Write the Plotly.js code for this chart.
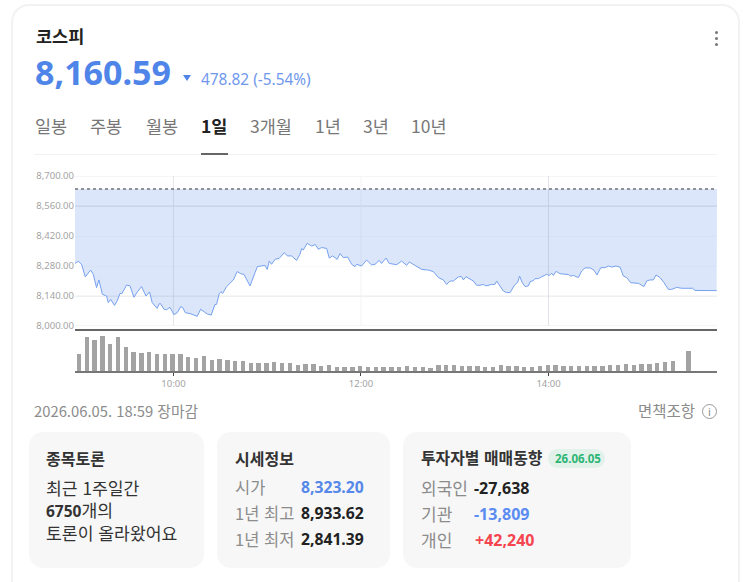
<!DOCTYPE html>
<html lang="ko"><head><meta charset="utf-8">
<script src="https://cdn.plot.ly/plotly-3.0.1.min.js"></script>
<style>
html,body{margin:0;padding:0;background:#fff;overflow:hidden;width:743px;height:582px;font-family:"Noto Sans CJK KR","Noto Sans",sans-serif}
#card{position:absolute;left:11px;top:4px;width:729px;height:600px;border:2px solid #f2f2f2;border-radius:18px;box-sizing:border-box}
.t{position:absolute;white-space:nowrap;line-height:1;transform:translateY(-50%)}
.box{position:absolute;top:432px;height:136px;background:#f7f7f7;border-radius:14px}
.num{font-family:"Noto Sans",sans-serif}
#chart{position:absolute;left:0;top:165px;width:743px;height:225px}
</style></head><body>
<div id="card"></div>
<div id="chart"></div>
<div class="box" style="left:29px;width:175px"></div>
<div class="box" style="left:217px;width:173px"></div>
<div class="box" style="left:403px;width:228px"></div>
<div id="ui"></div>
<script>
const minutes = [-3,-0.9,1.2,3.6,7,8.7,10.8,12.3,14.5,17.2,18.3,19.8,22.3,24,25.8,27,28.3,30,32.2,34.7,36.9,39.6,42.4,44.7,46.4,49.6,50.9,51.8,53.9,55.6,57.8,60.3,62.4,64.6,65.9,67.6,70.6,75.2,77.4,79.5,81.6,84.2,86.5,87.6,89.3,90.4,91.5,94,96.2,98.3,100.8,103,105.1,109,112.2,113.7,118.6,120,121.3,122.8,125,127.7,130.9,132.9,135.6,138.8,140.9,142,143.1,145.6,148.4,150.8,152.7,154.8,158,159.7,161.9,164.8,166.6,168.7,171.5,174,176.2,177.2,180.4,183.6,186.8,189,191.7,193.2,196,198.1,202.8,206,209.2,210.9,214.5,218.8,223.1,226.3,229.5,232.7,234.8,237,239.1,242.3,244.4,245.5,247.2,251.9,254,256.1,258.3,260,263.6,265.7,266.8,269,271.1,273.2,275.4,277.9,280.3,281.5,283.2,285,287.1,288.2,290.3,291.4,293.5,295.6,298.8,300.5,302,303.1,304.8,307.4,312.7,314.2,315.9,319.1,321.2,323.4,326.6,329.1,331,333.4,336.2,338.3,340.4,343.2,345.8,347.9,350,352.6,357.5,361.1,362.8,364.9,367.1,368.8,371.4,373.9,376.7,378.8,382,385.2,392.2,393.7,407.6];
const prices = [8292,8302,8288,8229,8261,8241,8179,8215,8148,8140,8109,8124,8096,8117,8152,8151,8168,8191,8187,8134,8159,8184,8140,8159,8109,8082,8104,8104,8078,8076,8087,8053,8062,8090,8086,8062,8058,8045,8078,8068,8056,8051,8100,8101,8151,8160,8152,8184,8202,8215,8254,8244,8241,8187,8249,8277,8283,8264,8303,8288,8311,8316,8342,8327,8327,8306,8334,8361,8355,8386,8373,8380,8358,8366,8362,8317,8327,8311,8338,8319,8322,8288,8277,8288,8280,8308,8285,8288,8306,8292,8317,8292,8286,8303,8283,8299,8283,8264,8261,8254,8226,8215,8194,8210,8210,8229,8230,8215,8230,8210,8190,8190,8194,8187,8194,8194,8210,8184,8163,8156,8156,8187,8205,8233,8202,8184,8187,8207,8212,8221,8221,8230,8241,8236,8246,8236,8255,8244,8240,8233,8236,8226,8257,8271,8271,8260,8238,8272,8272,8280,8275,8280,8274,8233,8226,8202,8199,8184,8210,8215,8215,8238,8226,8202,8171,8171,8180,8176,8176,8166,8165];
const volumes = [51,103,92,106,80,103,73,58,54,58,51,51,51,51,43,39,45,33,36,33,30,30,25,25,25,28,25,25,17,21,21,16,18,13,13,13,16,12,12,13,12,13,16,13,13,10,17,18,18,15,15,16,13,13,18,15,15,12,13,16,18,18,16,16,15,16,16,16,18,18,21,18,20,21,24,28,30,0,61];
const prevClose = 8639.41;
const xRange = [-3,407.8];
const priceTicks = [8000,8140,8280,8420,8560,8700];
const priceTickLabels = ["8,000.00","8,140.00","8,280.00","8,420.00","8,560.00","8,700.00"];
const strongGrid = [8000,8140,8560,8700];
const timeTicks = [60,180,300];
const timeTickLabels = ["10:00","12:00","14:00"];
const timeGridColors = ['#e4e6ea','#f3f3f3','#e0e3e8'];

const traces = [
 {x:xRange,y:[prevClose,prevClose],mode:'lines',line:{color:'#333',width:1,dash:'dot'},hoverinfo:'skip',xaxis:'x',yaxis:'y'},
 {x:minutes,y:prices,mode:'lines',line:{color:'#76a1f0',width:1},fill:'tonexty',fillcolor:'rgba(88,136,232,0.21)',hoverinfo:'skip',xaxis:'x',yaxis:'y'},
 {x:volumes.map((_,i)=>i*5-0.5),y:volumes,type:'bar',width:2.8,marker:{color:'#a3a3a3',line:{width:0}},hoverinfo:'skip',xaxis:'x2',yaxis:'y2'}
];
const tickFont={family:'"Noto Sans","Open Sans",sans-serif',size:9.5,color:'#a3a3a3'};
const gridShapes = strongGrid.map(v=>({type:'line',layer:'below',xref:'paper',yref:'y',x0:0,x1:1,y0:v,y1:v,line:{color:v===8560?'#e0e2e6':'#ececec',width:1}}))
 .concat(timeTicks.map((v,i)=>({type:'line',layer:'below',xref:'x',yref:'y domain',x0:v,x1:v,y0:0,y1:1,line:{color:timeGridColors[i],width:1}})));
const layout={
 width:743,height:225,margin:{l:75,r:26,t:11,b:19},paper_bgcolor:'rgba(0,0,0,0)',plot_bgcolor:'rgba(0,0,0,0)',showlegend:false,
 xaxis:{domain:[0,1],range:xRange,anchor:'y',tickvals:timeTicks,showticklabels:false,showgrid:false,zeroline:false,showline:false,ticks:''},
 yaxis:{domain:[0.2308,1],range:[8000,8700],tickvals:priceTicks,ticktext:priceTickLabels,tickfont:tickFont,showgrid:true,gridcolor:'rgba(120,130,150,0.05)',gridwidth:1,zeroline:false,showline:false,ticks:'',ticklabelstandoff:0},
 xaxis2:{domain:[0,1],range:xRange,anchor:'y2',tickvals:timeTicks,ticktext:timeTickLabels,tickfont:tickFont,showgrid:false,zeroline:false,showline:true,linecolor:'#777',linewidth:1.5,ticks:'outside',ticklen:3,tickwidth:1,tickcolor:'#444'},
 yaxis2:{domain:[0,0.2103],range:[0,123],showticklabels:false,showgrid:false,zeroline:false,showline:false,ticks:''},
 bargap:0,
 shapes:gridShapes.concat([{type:'line',xref:'paper',yref:'y2 domain',x0:0,x1:1,y0:1,y1:1,line:{color:'#333',width:1.3}}])
};
Plotly.newPlot('chart',traces,layout,{displayModeBar:false,staticPlot:true});

const ui=document.getElementById('ui');
function T(text,x,y,size,color,bold,cls){const s=document.createElement('span');s.className='t '+(cls||'');s.textContent=text;s.style.cssText=`left:${x}px;top:${y}px;font-size:${size}px;color:${color};font-weight:${bold?700:400}`;ui.appendChild(s);return s;}
function R(x,y,w,h,css){const d=document.createElement('div');d.style.cssText=`position:absolute;left:${x}px;top:${y}px;width:${w}px;height:${h}px;${css}`;ui.appendChild(d);}
T('코스피',36,36,17.5,'#222',true);
T('8,160.59',35,72,34,'#4f84e8',true,'num');
R(183,75,0,0,'border-left:4.5px solid transparent;border-right:4.5px solid transparent;border-top:6px solid #4f84e8');
T('478.82 (-5.54%)',201,80,15.4,'#6f97ec',false,'num');
[32,38,44].forEach(y=>R(715,y-1,3,3,'background:#777;border-radius:50%'));
[['일봉',35],['주봉',90],['월봉',146],['3개월',250],['1년',315],['3년',363],['10년',411]].forEach(a=>T(a[0],a[1],126,17.5,'#777',false));
T('1일',201,126,17.5,'#222',true);
R(34,154,683,1,'background:#f2f2f2');
R(201,153,27,2,'background:#666');
T('2026.06.05. 18:59 장마감',34,411,14.8,'#8c8c8c',false);
T('면책조항',638,411,15.5,'#8c8c8c',false);
R(702,404,15,15,'border:1.3px solid #9a9a9a;border-radius:50%;box-sizing:border-box');
T('i',708,411,11,'#8c8c8c',false,'num');
T('종목토론',46,458,16,'#333',true);
const b=T('',46,510,17.2,'#333',false);b.style.lineHeight='22px';b.innerHTML='최근 1주일간<br><b class="num" style="font-size:15.5px">6750</b>개의<br>토론이 올라왔어요';
T('시세정보',235,458,16,'#333',true);
T('시가',235,487,16.5,'#8c8c8c',false);T('8,323.20',301,488,15.7,'#5588e8',true,'num');
T('1년 최고',235,513,16.5,'#8c8c8c',false);T('8,933.62',301,514,15.7,'#222',true,'num');
T('1년 최저',235,539,16.5,'#8c8c8c',false);T('2,841.39',301,540,15.7,'#222',true,'num');
T('투자자별 매매동향',421,458,15.9,'#333',true);
R(548,449,57,19,'background:#e2f2ea;border-radius:10px');
T('26.06.05',555,459,11.5,'#2db574',true,'num');
T('외국인',421,487,17,'#8c8c8c',false);T('-27,638',474,488,16,'#222',true,'num');
T('기관',421,513,17,'#8c8c8c',false);T('-13,809',474,514,16,'#5b8cf2',true,'num');
T('개인',421,539,17,'#8c8c8c',false);T('+42,240',475,540,16,'#f5454f',true,'num');
</script>
</body></html>
